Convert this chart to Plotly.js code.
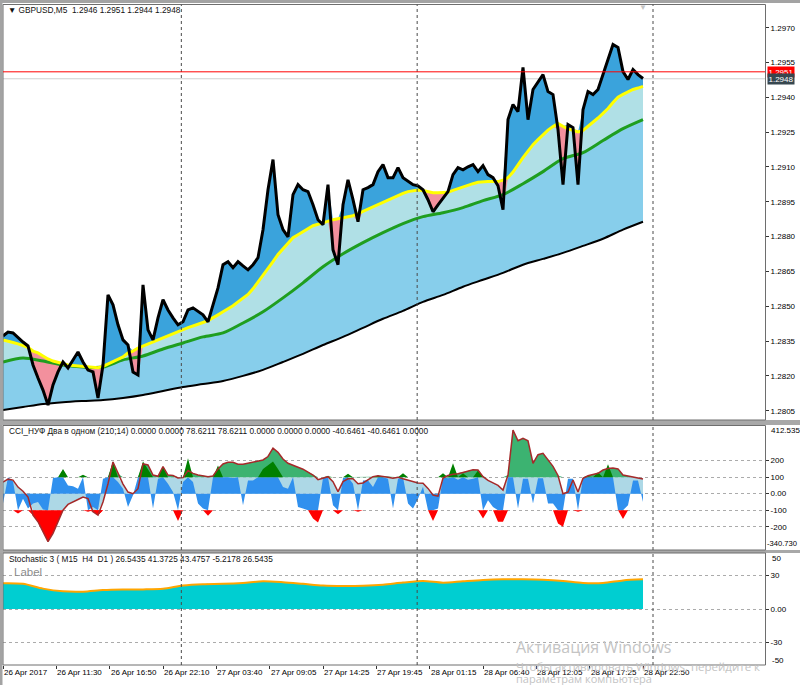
<!DOCTYPE html>
<html><head><meta charset="utf-8">
<script src="https://cdn.plot.ly/plotly-3.0.1.min.js"></script>
<style>html,body{margin:0;padding:0;background:#fff;overflow:hidden}#chart{width:800px;height:685px}</style>
</head><body><div id="chart"></div>
<script>
// ---------------- DATA ----------------
const timeLabels = ['26 Apr 2017','26 Apr 11:30','26 Apr 16:50','26 Apr 22:10','27 Apr 03:40','27 Apr 09:05','27 Apr 14:25','27 Apr 19:45','28 Apr 01:15','28 Apr 06:40','28 Apr 12:05','28 Apr 17:25','28 Apr 22:50'];
const labelBars = [0,64,128,192,256,320,384,448,512,576,640,704,768];
const daySeparatorBars = [214, 497, 780];
const ohlc = [1.2946, 1.2951, 1.2944, 1.2948];
const priceTicks = [1.2805,1.2820,1.2835,1.2850,1.2865,1.2880,1.2895,1.2910,1.2925,1.2940,1.2955,1.2970];
const priceRange = [1.28010, 1.29800];

// close price, sampled every 6 bars (M5)
const priceClose = [
1.28372,1.28389,1.28385,1.28364,1.28346,1.28329,1.28247,1.28191,1.28139,1.28074,
1.28161,1.28217,1.28260,1.28234,1.28269,1.28303,1.28260,1.28225,1.28217,1.28105,
1.28247,1.28549,1.28506,1.28420,1.28355,1.28333,1.28217,1.28204,1.28592,1.28398,
1.28355,1.28450,1.28528,1.28484,1.28450,1.28420,1.28433,1.28484,1.28493,1.28476,
1.28463,1.28433,1.28506,1.28579,1.28679,1.28692,1.28666,1.28692,1.28674,1.28657,
1.28679,1.28709,1.28830,1.29002,1.29132,1.28894,1.28830,1.28799,1.28981,1.29024,
1.29002,1.28994,1.28937,1.28873,1.28851,1.29024,1.28743,1.28679,1.28937,1.29045,
1.28959,1.28864,1.29002,1.29011,1.29024,1.29080,1.29110,1.29054,1.29054,1.29097,
1.29054,1.29037,1.29024,1.29019,1.29002,1.28959,1.28907,1.28937,1.28968,1.28994,
1.29067,1.29097,1.29088,1.29101,1.29110,1.29080,1.29106,1.29067,1.29054,1.29019,
1.28916,1.29304,1.29369,1.29339,1.29529,1.29304,1.29434,1.29468,1.29498,1.29425,
1.29412,1.29261,1.29024,1.29283,1.29270,1.29024,1.29347,1.29425,1.29412,1.29434,
1.29498,1.29572,1.29628,1.29615,1.29511,1.29477,1.29520,1.29498,1.29481];

// fast moving average (yellow), same sampling
const maFast = [
1.28355,1.28351,1.28344,1.28338,1.28330,1.28323,1.28307,1.28299,1.28286,1.28273,
1.28264,1.28258,1.28251,1.28247,1.28245,1.28243,1.28241,1.28238,1.28237,1.28235,
1.28241,1.28251,1.28262,1.28272,1.28282,1.28299,1.28307,1.28320,1.28329,1.28338,
1.28348,1.28357,1.28365,1.28374,1.28383,1.28391,1.28399,1.28408,1.28415,1.28424,
1.28430,1.28438,1.28449,1.28463,1.28476,1.28489,1.28502,1.28519,1.28535,1.28551,
1.28575,1.28603,1.28632,1.28662,1.28692,1.28723,1.28748,1.28770,1.28795,1.28808,
1.28821,1.28834,1.28847,1.28853,1.28860,1.28866,1.28873,1.28877,1.28881,1.28886,
1.28890,1.28899,1.28909,1.28919,1.28929,1.28938,1.28948,1.28958,1.28968,1.28977,
1.28986,1.28994,1.28998,1.29001,1.28999,1.28994,1.28989,1.28989,1.28989,1.28991,
1.28999,1.29007,1.29015,1.29021,1.29028,1.29034,1.29037,1.29037,1.29037,1.29037,
1.29043,1.29054,1.29078,1.29110,1.29140,1.29168,1.29196,1.29218,1.29239,1.29259,
1.29274,1.29287,1.29275,1.29264,1.29258,1.29251,1.29258,1.29275,1.29291,1.29311,
1.29331,1.29352,1.29378,1.29401,1.29413,1.29425,1.29434,1.29440,1.29447];

// slow moving average (green) and base line (black), sampled every 24 bars
const maSlow = [1.28260,1.28277,1.28264,1.28247,1.28238,1.28238,1.28269,1.28286,1.28316,1.28342,1.28368,1.28385,1.28428,1.28476,1.28536,1.28601,1.28670,1.28726,1.28774,1.28817,1.28856,1.28886,1.28903,1.28925,1.28955,1.28981,1.29028,1.29080,1.29136,1.29162,1.29214,1.29265,1.29304];
const maBase = [1.28053,1.28066,1.28079,1.28087,1.28092,1.28096,1.28105,1.28118,1.28135,1.28152,1.28165,1.28178,1.28200,1.28226,1.28260,1.28295,1.28333,1.28368,1.28407,1.28446,1.28480,1.28519,1.28549,1.28584,1.28614,1.28644,1.28679,1.28704,1.28730,1.28760,1.28791,1.28830,1.28864];

// CCI "two in one": slow (line) and fast (histogram), every 6 bars
const cciSlow = [
70,88,82,40,15,-20,-130,-170,-230,-290,
-240,-170,-100,-65,-48,-35,-20,-30,-110,-130,
-50,60,192,120,58,10,0,30,180,174,
113,105,164,113,110,95,97,140,123,113,
110,103,107,150,180,190,190,178,178,184,
190,198,204,225,275,250,210,184,174,160,
148,133,113,85,93,103,73,12,73,90,
90,60,65,85,103,108,106,100,93,100,
90,82,73,65,63,32,-8,-15,95,110,
117,120,128,135,145,143,103,80,65,50,
22,113,385,320,335,320,184,236,244,205,
165,110,0,10,83,10,93,108,115,123,
143,152,156,150,113,106,100,95,89];
const cciFast = [
-60,100,75,-120,-30,-90,-60,-50,-95,-100,
95,100,150,50,45,30,115,-110,-80,-130,
90,100,195,70,30,-80,-10,100,195,150,
-90,90,165,60,10,-165,70,215,70,-60,
-90,-133,100,170,100,100,95,100,-70,80,
80,100,150,170,195,150,40,30,100,-80,
-90,-100,-150,-174,95,105,-70,-125,95,120,
60,-110,80,80,40,110,100,90,-90,90,
123,-60,-90,-30,42,-100,-165,-90,123,93,
184,85,123,85,90,140,-150,-40,-80,-170,
-170,103,103,-90,90,90,-60,93,93,-60,
-60,-180,-200,90,90,-110,100,105,100,130,
100,178,100,-100,-153,-70,80,80,-50];
const cciLevels = [200,100,0,-100,-200];
const cciRange = [-340.730, 412.535];
const cciHeaderValues = [0.0000,0.0000,78.6211,78.6211,0.0000,0.0000,0.0000,-40.6461,-40.6461,0.0000];

// Stochastic (multi timeframe), every 24 bars
const stochMain = [23.0,22.5,18.2,15.8,15.5,17.0,17.5,17.5,18.0,21.0,22.2,22.5,23.3,24.7,23.9,22.5,21.0,20.6,20.8,21.7,23.6,25.0,23.5,24.8,26.0,26.6,26.5,26.1,25.0,23.3,23.3,25.5,26.5];
const stochLevels = [30,0,-30];
const stochRange = [-50, 50];
const stochHeaderValues = [26.5435,41.3725,43.4757,-5.2178,26.5435];

// ---------------- BUILD ----------------
const W = 800, H = 685;
const fx = p => p / W, fy = p => 1 - p / H;
const fineX = priceClose.map((_, i) => i * 6);
const coarseX = maSlow.map((_, k) => k * 24);
const stochX = stochMain.map((_, k) => k * 24);
const NB = '\u00a0';

function tr(x, y, ax, opt) {
  return Object.assign({type:'scatter', mode:'lines', x:x, y:y, xaxis:'x', yaxis:ax, hoverinfo:'skip'}, opt);
}
const hidden = {line:{width:0}};
const hiddenS = {line:{width:0, shape:'spline', smoothing:0.8}};

const upper = priceClose.map((p, i) => Math.max(p, maFast[i]));
const lower = priceClose.map((p, i) => Math.min(p, maFast[i]));

const hiLvl = cciLevels[1], loLvl = cciLevels[3];
const clamp = v => Math.max(loLvl, Math.min(hiLvl, v));
const hiArr = fineX.map(() => hiLvl), loArr = fineX.map(() => loLvl);

const traces = [
  // main panel fills
  tr(coarseX, maBase, 'y', hiddenS),
  tr(coarseX, maSlow, 'y', {fill:'tonexty', fillcolor:'#87CEEB', line:{width:0, shape:'spline', smoothing:0.8}}),
  tr(fineX, maFast, 'y', {fill:'tonexty', fillcolor:'#B0E0E6', line:{width:0}}),
  tr(fineX, maFast, 'y', hidden),
  tr(fineX, upper, 'y', {fill:'tonexty', fillcolor:'#3AA3DC', line:{width:0}}),
  tr(fineX, maFast, 'y', hidden),
  tr(fineX, lower, 'y', {fill:'tonexty', fillcolor:'#F3909D', line:{width:0}}),
  // main panel lines
  tr(coarseX, maBase, 'y', {line:{color:'#000000', width:2, shape:'spline', smoothing:0.8}}),
  tr(coarseX, maSlow, 'y', {line:{color:'#1F9E1F', width:3, shape:'spline', smoothing:0.8}}),
  tr(fineX, maFast, 'y', {line:{color:'#FFFF00', width:3}}),
  tr(fineX, priceClose, 'y', {line:{color:'#000000', width:3}}),

  // CCI panel
  tr(fineX, cciSlow.map(clamp), 'y2', {fill:'tozeroy', fillcolor:'#ADD8E6', line:{width:0}}),
  tr(fineX, hiArr, 'y2', hidden),
  tr(fineX, cciSlow.map(v => Math.max(v, hiLvl)), 'y2', {fill:'tonexty', fillcolor:'#3CB371', line:{width:0}}),
  tr(fineX, loArr, 'y2', hidden),
  tr(fineX, cciSlow.map(v => Math.min(v, loLvl)), 'y2', {fill:'tonexty', fillcolor:'#FF0000', line:{width:0}}),
  tr(fineX, cciFast.map(clamp), 'y2', {fill:'tozeroy', fillcolor:'#3090EE', line:{width:0}}),
  tr(fineX, hiArr, 'y2', hidden),
  tr(fineX, cciFast.map(v => Math.max(v, hiLvl)), 'y2', {fill:'tonexty', fillcolor:'#008000', line:{width:0}}),
  tr(fineX, loArr, 'y2', hidden),
  tr(fineX, cciFast.map(v => Math.min(v, loLvl)), 'y2', {fill:'tonexty', fillcolor:'#FF0000', line:{width:0}}),
  tr(fineX, cciSlow, 'y2', {line:{color:'#A52A2A', width:1.5}}),

  // Stochastic panel
  tr(stochX, stochMain, 'y3', {fill:'tozeroy', fillcolor:'#00CED1', line:{color:'#FFA500', width:2, shape:'spline', smoothing:0.8}})
];

// ---------------- LAYOUT ----------------
const axisFont = {family:'Liberation Sans, Arial, sans-serif', size:8, color:'#000'};
const yCommon = {side:'right', anchor:'x', zeroline:false, showline:false, ticks:'outside', ticklen:3, tickcolor:'#333', tickfont:axisFont, fixedrange:true};

const shapes = [];
// frame and panel separators
shapes.push({type:'rect', xref:'paper', yref:'paper', x0:0, x1:1, y0:fy(3), y1:1, fillcolor:'#A3A3A3', line:{width:0}, layer:'above'});
shapes.push({type:'rect', xref:'paper', yref:'paper', x0:0, x1:fx(2.5), y0:0, y1:1, fillcolor:'#A3A3A3', line:{width:0}, layer:'above'});
[[420, 425], [550, 553]].forEach(([a, b]) => shapes.push({type:'rect', xref:'paper', yref:'paper', x0:0, x1:1, y0:fy(b), y1:fy(a), fillcolor:'#A8A8A8', line:{width:0}, layer:'above'}));
[[4.5, 420], [425.5, 550], [553, 665]].forEach(([t, b]) => shapes.push({type:'rect', xref:'paper', yref:'paper', x0:fx(3), x1:fx(765.5), y0:fy(b), y1:fy(t), fillcolor:'rgba(0,0,0,0)', line:{color:'#6E6E6E', width:1}, layer:'above'}));
// day separators
['y', 'y2', 'y3'].forEach(ax => daySeparatorBars.forEach(b => shapes.push({type:'line', xref:'x', yref:ax + ' domain', x0:b, x1:b, y0:0, y1:1, line:{color:'#4A4A4A', width:1, dash:'dot'}, layer:'above'})));
// bid / high lines
shapes.push({type:'line', xref:'paper', yref:'y', x0:fx(3), x1:fx(765), y0:ohlc[3], y1:ohlc[3], line:{color:'#CFCFCF', width:1}, layer:'below'});
shapes.push({type:'line', xref:'paper', yref:'y', x0:fx(3), x1:fx(765), y0:ohlc[1], y1:ohlc[1], line:{color:'#FF0000', width:1}, layer:'above'});

const annotations = [];
function txt(x, y, text, opt) {
  annotations.push(Object.assign({xref:'paper', yref:'paper', x:fx(x), y:fy(y), text:text, showarrow:false, xanchor:'left', yanchor:'middle', font:axisFont}, opt || {}));
}
const hdrFont = {family:'Liberation Sans, Arial, sans-serif', size:8.3, color:'#111'};
txt(6, 10, '▼' + NB + 'GBPUSD,M5' + NB + NB + ohlc.map(v => v.toFixed(4)).join(' '), {font:hdrFont});
txt(7, 431, 'CCI_НУФ Два в одном (210;14) ' + cciHeaderValues.map(v => v.toFixed(4)).join(' '), {font:hdrFont});
txt(7, 559, 'Stochastic 3 (' + NB + 'M15' + NB + NB + 'H4' + NB + NB + 'D1' + NB + ') ' + stochHeaderValues.map(v => v.toFixed(4)).join(' '), {font:hdrFont});
txt(12, 571.5, 'Label', {font:{family:'Liberation Sans, Arial, sans-serif', size:11.5, color:'#8C8C8C'}});
// scale extremes
txt(769, 430, cciRange[1].toFixed(3));
txt(798.5, 543.5, cciRange[0].toFixed(3), {xanchor:'right', font:{family:'Liberation Sans, Arial, sans-serif', size:7.6, color:'#000'}});
txt(770, 558.5, String(stochRange[1]));
txt(770, 660, String(stochRange[0]));
// current price labels
annotations.push({xref:'paper', yref:'y', x:fx(767), y:ohlc[1], text:ohlc[1].toFixed(4), showarrow:false, xanchor:'left', yanchor:'middle', bgcolor:'#FF0000', borderpad:0.5, font:{family:'Liberation Sans, Arial, sans-serif', size:8, color:'#FFFFFF'}});
annotations.push({xref:'paper', yref:'y', x:fx(767), y:ohlc[3], text:ohlc[3].toFixed(4), showarrow:false, xanchor:'left', yanchor:'middle', bgcolor:'#37474F', borderpad:0.5, font:{family:'Liberation Sans, Arial, sans-serif', size:8, color:'#FFFFFF'}});
// shift marker
annotations.push({xref:'x', yref:'paper', x:labelBars[labelBars.length - 1], y:fy(7.5), text:'▼', showarrow:false, xanchor:'center', yanchor:'middle', font:{size:8, color:'#C4C4C4'}});
// time labels
timeLabels.forEach((t, j) => annotations.push({xref:'x', yref:'paper', x:labelBars[j], y:fy(672.5), text:t, showarrow:false, xanchor:'left', yanchor:'middle', xshift:-1, font:axisFont}));
// Windows activation watermark
const wmFont = s => ({family:'Open Sans, Noto Sans, sans-serif', size:s, color:'#C4C4C4'});
txt(514, 647, 'Активация Windows', {font:wmFont(16)});
txt(514, 666, 'Чтобы активировать Windows, перейдите к', {font:wmFont(11.5)});
txt(514, 678.5, 'параметрам компьютера', {font:wmFont(11)});

const layout = {
  width:W, height:H, margin:{l:0, r:0, t:0, b:0, pad:0},
  paper_bgcolor:'#FFFFFF', plot_bgcolor:'#FFFFFF',
  showlegend:false, hovermode:false, dragmode:false,
  font:axisFont,
  xaxis:{domain:[fx(3), fx(765)], range:[0, 914.4], anchor:'y3', showgrid:false, zeroline:false, showline:false,
         ticks:'outside', ticklen:3, tickcolor:'#333', tickvals:labelBars, showticklabels:false, fixedrange:true},
  yaxis:Object.assign({}, yCommon, {domain:[fy(420), fy(4.5)], range:priceRange, showgrid:false,
         tickvals:priceTicks, ticktext:priceTicks.map(v => v.toFixed(4))}),
  yaxis2:Object.assign({}, yCommon, {domain:[fy(550), fy(425.5)], range:cciRange, showgrid:true, gridcolor:'#ABABAB', griddash:'dot', gridwidth:1,
         tickvals:cciLevels, ticktext:cciLevels.map(v => v === 0 ? '0.00' : String(v))}),
  yaxis3:Object.assign({}, yCommon, {domain:[fy(665), fy(553)], range:stochRange, showgrid:true, gridcolor:'#ABABAB', griddash:'dot', gridwidth:1,
         tickvals:stochLevels, ticktext:stochLevels.map(v => v === 0 ? '0.00' : String(v))}),
  shapes:shapes, annotations:annotations
};

Plotly.newPlot('chart', traces, layout, {staticPlot:true, displayModeBar:false, responsive:false});
</script>
</body></html>
